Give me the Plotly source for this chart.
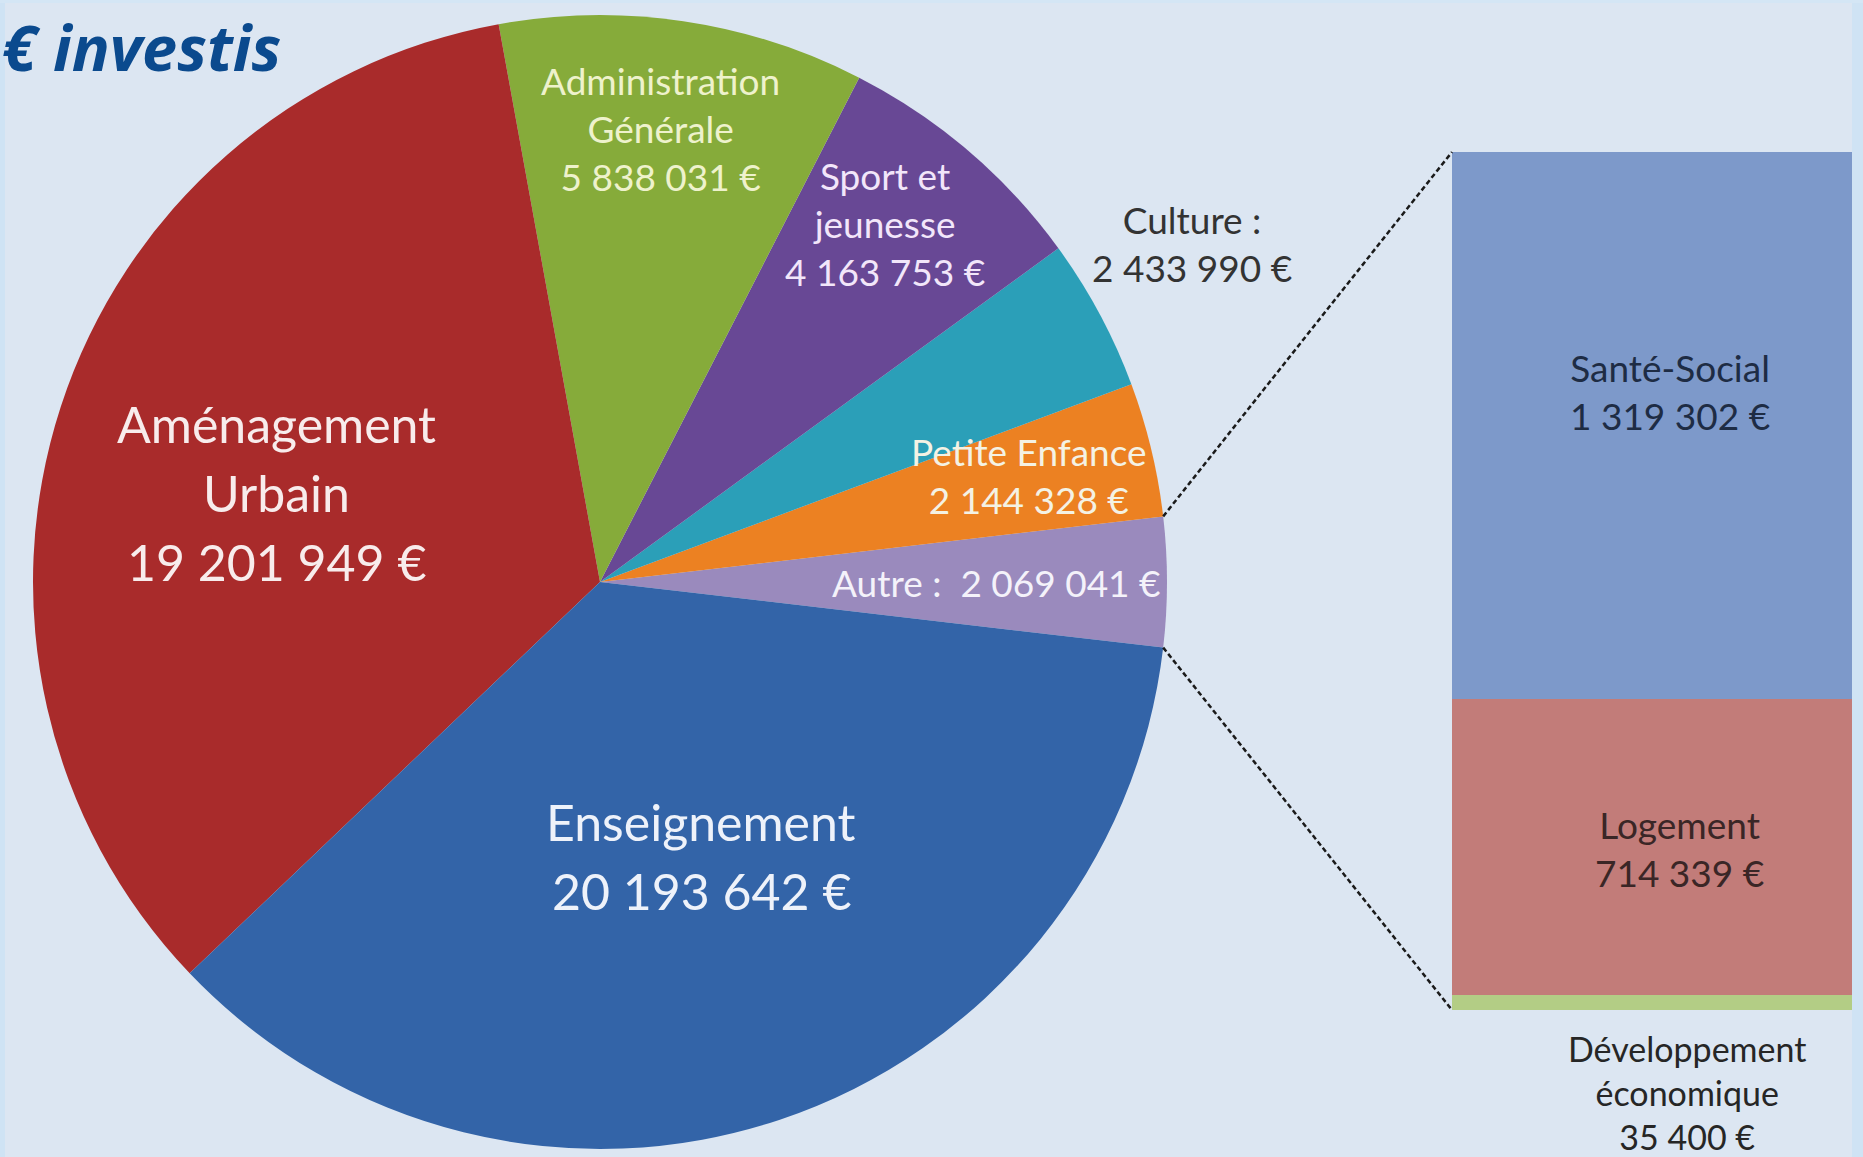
import math
import plotly.graph_objects as go

# ---------------- data ----------------
pie_labels = ["Autre", "Petite Enfance", "Culture", "Sport et jeunesse",
              "Administration Générale", "Aménagement Urbain", "Enseignement"]
pie_values = [2069041, 2144328, 2433990, 4163753, 5838031, 19201949, 20193642]
pie_colors = ["#9a8abd", "#ec8122", "#2b9fb8", "#684895", "#86ab3a", "#a92b2b", "#3364a8"]

bar_labels = ["Développement économique", "Logement", "Santé-Social"]
bar_values = [35400, 714339, 1319302]
bar_colors = ["#b3cd85", "#c27c79", "#7d99ca"]

title_text = "€ investis"

# ---------------- layout constants (pixels) ----------------
W, H = 1863, 1157
BG = "#dce6f2"
PIE_CX, PIE_CY, PIE_R = 600, 582, 567
BAR_X0, BAR_X1, BAR_Y0, BAR_Y1 = 1452, 1852, 152, 1010


def px_x(x):
    return x / W


def px_y(y):
    return 1 - y / H


total = sum(pie_values)
half_autre = pie_values[0] / total * 360 / 2

fig = go.Figure()

# counterclockwise: rotation = 90 - half makes "Autre" centred on 3 o'clock
fig.add_trace(go.Pie(
    labels=pie_labels, values=pie_values, sort=False,
    direction="counterclockwise", rotation=90 - half_autre,
    marker=dict(colors=pie_colors, line=dict(width=0)),
    textinfo="none", hoverinfo="label+value", showlegend=False,
    domain=dict(x=[px_x(PIE_CX - PIE_R), px_x(PIE_CX + PIE_R)],
                y=[px_y(PIE_CY + PIE_R), px_y(PIE_CY - PIE_R)]),
))

for lab, val, col in zip(bar_labels, bar_values, bar_colors):
    fig.add_trace(go.Bar(
        x=[0], y=[val], name=lab, marker=dict(color=col, line=dict(width=0)),
        width=1, xaxis="x2", yaxis="y2", showlegend=False, hoverinfo="name+y",
    ))

# connector lines from the "Autre" slice edges to the bar corners
theta = math.radians(half_autre)
p_top = (PIE_CX + PIE_R * math.cos(theta), PIE_CY - PIE_R * math.sin(theta))
p_bot = (PIE_CX + PIE_R * math.cos(theta), PIE_CY + PIE_R * math.sin(theta))
shapes = [
    dict(type="line", xref="paper", yref="paper",
         x0=px_x(p_top[0]), y0=px_y(p_top[1]), x1=px_x(BAR_X0), y1=px_y(BAR_Y0),
         line=dict(color="#1a1a1a", width=2.5, dash="5px,3px")),
    dict(type="line", xref="paper", yref="paper",
         x0=px_x(p_bot[0]), y0=px_y(p_bot[1]), x1=px_x(BAR_X0), y1=px_y(BAR_Y1),
         line=dict(color="#1a1a1a", width=2.5, dash="5px,3px")),
    # thin light frame bands
    dict(type="rect", xref="paper", yref="paper", x0=0, x1=px_x(5), y0=0, y1=1,
         fillcolor="#cfe3f4", line=dict(width=0), layer="above"),
    dict(type="rect", xref="paper", yref="paper", x0=px_x(1852), x1=1, y0=0, y1=1,
         fillcolor="#cfe3f4", line=dict(width=0), layer="above"),
    dict(type="rect", xref="paper", yref="paper", x0=0, x1=1, y0=px_y(3), y1=1,
         fillcolor="#d4e6f5", line=dict(width=0), layer="above"),
]

FONT = "Lato, Carlito, Calibri, sans-serif"


def ann(text, x, y, size, color, **kw):
    d = dict(text=text, x=px_x(x), y=px_y(y), xref="paper", yref="paper",
             showarrow=False, xanchor="center", yanchor="middle",
             font=dict(family=FONT, size=size, color=color), align="center")
    d.update(kw)
    return d


def eur(v):
    return f"{v:,}".replace(",", " ") + " €"


lab = dict(zip(pie_labels, pie_values))
bl = dict(zip(bar_labels, bar_values))

annotations = []
# big labels: one annotation per line to reproduce the wider line spacing
for i, line in enumerate(["Aménagement", "Urbain", eur(lab["Aménagement Urbain"])]):
    annotations.append(ann(line, 276, 424 + 69 * i, 50, "#f8ecec"))
for i, line in enumerate(["Enseignement", eur(lab["Enseignement"])]):
    annotations.append(ann(line, 701, 822 + 69 * i, 50, "#eef2fa"))

annotations += [
    ann("Administration<br>Générale<br>" + eur(lab["Administration Générale"]), 660, 128, 37, "#eef2cc"),
    ann("Sport et<br>jeunesse<br>" + eur(lab["Sport et jeunesse"]), 885, 223, 37, "#f2e6fa"),
    ann("Culture :<br>" + eur(lab["Culture"]), 1192, 244, 37, "#333333"),
    ann("Petite Enfance<br>" + eur(lab["Petite Enfance"]), 1029, 475, 37, "#f4f2e4"),
    ann("Autre :  " + eur(lab["Autre"]), 996, 582, 37, "#f4f2fa"),
    ann("Santé-Social<br>" + eur(bl["Santé-Social"]), 1670, 392, 37, "#1e2c44"),
    ann("Logement<br>" + eur(bl["Logement"]), 1679, 848, 37, "#3a2626"),
    ann("Développement<br>économique<br>" + eur(bl["Développement économique"]), 1687, 1092, 34, "#262626"),
    dict(text="<b><i>" + title_text + "</i></b>", x=0, y=px_y(47), xref="paper", yref="paper",
         showarrow=False, xanchor="left", yanchor="middle",
         font=dict(family="Open Sans, sans-serif", size=63, color="#0b4a8e")),
]

fig.update_layout(
    width=W, height=H, margin=dict(l=0, r=0, t=0, b=0),
    paper_bgcolor=BG, plot_bgcolor="rgba(0,0,0,0)",
    barmode="stack", bargap=0,
    xaxis2=dict(domain=[px_x(BAR_X0), px_x(BAR_X1)], range=[-0.5, 0.5],
                visible=False, fixedrange=True, anchor="y2"),
    yaxis2=dict(domain=[px_y(BAR_Y1), px_y(BAR_Y0)], range=[0, sum(bar_values)],
                visible=False, fixedrange=True, anchor="x2"),
    xaxis=dict(visible=False), yaxis=dict(visible=False),
    shapes=shapes, annotations=annotations,
)

fig.write_html("out.html", config={"displayModeBar": False},
               post_script="document.body.style.margin='0';")
